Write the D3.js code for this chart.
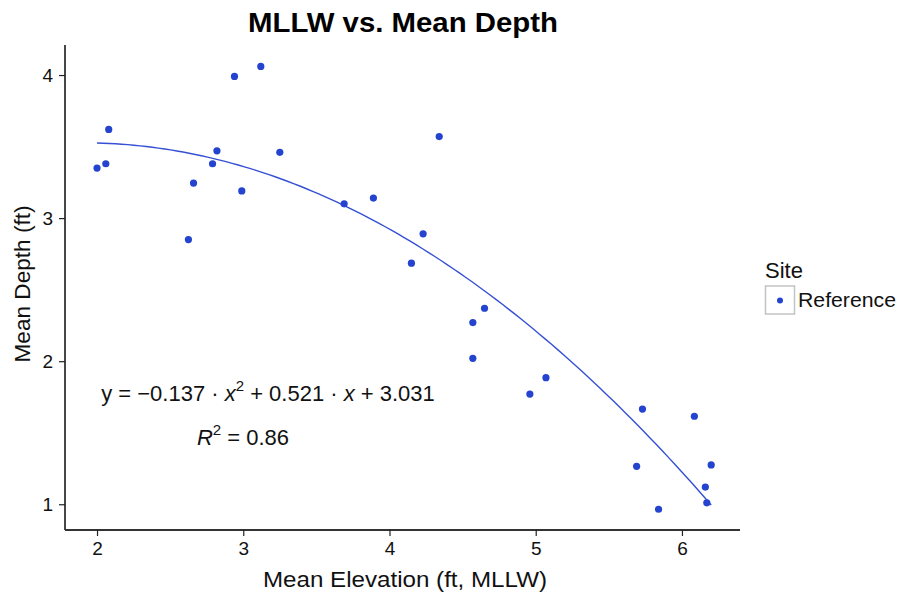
<!DOCTYPE html>
<html>
<head>
<meta charset="utf-8">
<script src="https://cdn.jsdelivr.net/npm/d3@7"></script>
<style>
  body { margin: 0; background: #fff; }
  text { font-family: "Liberation Sans", Arial, Helvetica, sans-serif; }
</style>
</head>
<body>
<svg id="chart" width="898" height="595"></svg>
<script>
// mean elevation (ft, MLLW) and mean depth (ft) per reference site
const elevation = [2.00, 2.06, 2.08, 2.625, 2.66, 2.79, 2.82, 2.94, 2.99, 3.12, 3.25, 3.69, 3.89,
  4.34, 4.23, 4.15, 4.65, 4.57, 4.57, 4.96, 5.07, 5.73, 5.69, 5.84, 6.085, 6.20, 6.16, 6.17];
const depth = [3.35, 3.38, 3.62, 2.85, 3.245, 3.38, 3.47, 3.99, 3.19, 4.06, 3.46, 3.10, 3.14,
  3.57, 2.89, 2.685, 2.37, 2.27, 2.02, 1.77, 1.885, 1.665, 1.265, 0.965, 1.615, 1.275, 1.12, 1.01];
const fitCoef = [3.031, 0.521, -0.137]; // c0 + c1*x + c2*x^2
const xTicks = [2, 3, 4, 5, 6];
const yTicks = [1, 2, 3, 4];
const siteNames = ['Reference'];

const blue = '#2443cf';
const svg = d3.select('#chart');

const margin = { left: 65, right: 158, top: 45, bottom: 65 };
const W = 898, H = 595;

const x = d3.scaleLinear().domain([1.781, 6.397]).range([margin.left, W - margin.right]);
const y = d3.scaleLinear().domain([0.82, 4.21]).range([H - margin.bottom, margin.top]);

// axes
const xAxis = svg.append('g')
  .attr('transform', `translate(0,${H - margin.bottom})`)
  .call(d3.axisBottom(x).tickValues(xTicks).tickSize(6).tickPadding(6).tickFormat(d3.format('d')));
const yAxis = svg.append('g')
  .attr('transform', `translate(${margin.left},0)`)
  .call(d3.axisLeft(y).tickValues(yTicks).tickSize(6).tickPadding(6).tickFormat(d3.format('d')));

[xAxis, yAxis].forEach(a => {
  a.select('.domain').attr('stroke', '#333').attr('stroke-width', 1.8);
  a.selectAll('.tick line').attr('stroke', '#222').attr('stroke-width', 1.2);
  a.selectAll('.tick text')
    .attr('fill', '#111')
    .style('font-size', '19px')
    .style('font-family', '"Liberation Sans", Arial, sans-serif');
});
xAxis.select('.domain').attr('d', `M${margin.left},0H${W - margin.right}`);
yAxis.select('.domain').attr('d', `M0,${margin.top}V${H - margin.bottom}`);

// fit line over data range
const xs = d3.range(0, 101).map(i => d3.min(elevation) + i * (d3.max(elevation) - d3.min(elevation)) / 100);
const line = d3.line()
  .x(d => x(d))
  .y(d => y(fitCoef[0] + fitCoef[1] * d + fitCoef[2] * d * d));
svg.append('path')
  .datum(xs)
  .attr('fill', 'none')
  .attr('stroke', '#3550d4')
  .attr('stroke-width', 1.4)
  .attr('d', line);

// points
svg.append('g')
  .selectAll('circle')
  .data(elevation.map((e, i) => [e, depth[i]]))
  .enter()
  .append('circle')
  .attr('cx', d => x(d[0]))
  .attr('cy', d => y(d[1]))
  .attr('r', 3.6)
  .attr('fill', blue);

// title and axis labels
svg.append('text')
  .attr('x', 403)
  .attr('y', 32)
  .attr('text-anchor', 'middle')
  .attr('textLength', 310)
  .attr('lengthAdjust', 'spacingAndGlyphs')
  .style('font-size', '27px')
  .style('font-weight', 'bold')
  .attr('fill', '#000')
  .text('MLLW vs. Mean Depth');

svg.append('text')
  .attr('x', 405)
  .attr('y', 587)
  .attr('text-anchor', 'middle')
  .attr('textLength', 284)
  .attr('lengthAdjust', 'spacingAndGlyphs')
  .style('font-size', '22px')
  .attr('fill', '#111')
  .text('Mean Elevation (ft, MLLW)');

svg.append('text')
  .attr('transform', `translate(30,284) rotate(-90)`)
  .attr('text-anchor', 'middle')
  .attr('textLength', 157)
  .attr('lengthAdjust', 'spacingAndGlyphs')
  .style('font-size', '22px')
  .attr('fill', '#111')
  .text('Mean Depth (ft)');

// equation annotation
const eq = svg.append('text')
  .attr('x', 268)
  .attr('y', 401)
  .attr('text-anchor', 'middle')
  .style('font-size', '22px')
  .attr('fill', '#111');
eq.append('tspan').text('y = \u2212' + Math.abs(fitCoef[2]).toFixed(3) + ' \u00b7 ');
eq.append('tspan').style('font-style', 'italic').text('x');
eq.append('tspan').attr('dy', -10).style('font-size', '15px').text('2');
eq.append('tspan').attr('dy', 10).text(' + ' + fitCoef[1].toFixed(3) + ' \u00b7 ');
eq.append('tspan').style('font-style', 'italic').text('x');
eq.append('tspan').text(' + ' + fitCoef[0].toFixed(3));

const r2 = svg.append('text')
  .attr('x', 243)
  .attr('y', 445)
  .attr('text-anchor', 'middle')
  .style('font-size', '22px')
  .attr('fill', '#111');
r2.append('tspan').style('font-style', 'italic').text('R');
r2.append('tspan').attr('dy', -10).style('font-size', '15px').text('2');
r2.append('tspan').attr('dy', 10).text(' = 0.86');

// legend
const leg = svg.append('g').attr('transform', 'translate(765,0)');
leg.append('text')
  .attr('x', 0)
  .attr('y', 278)
  .style('font-size', '22px')
  .attr('fill', '#111')
  .text('Site');
siteNames.forEach((s, i) => {
  const g = leg.append('g').attr('transform', `translate(0,${286 + i * 29})`);
  g.append('rect')
    .attr('x', 0.5).attr('y', 0)
    .attr('width', 29).attr('height', 28)
    .attr('fill', '#fff')
    .attr('stroke', '#c4c4c4')
    .attr('stroke-width', 1.5);
  g.append('circle')
    .attr('cx', 15).attr('cy', 14.5)
    .attr('r', 3)
    .attr('fill', blue);
  g.append('text')
    .attr('x', 33).attr('y', 21)
    .attr('textLength', 98)
    .attr('lengthAdjust', 'spacingAndGlyphs')
    .style('font-size', '20px')
    .attr('fill', '#111')
    .text(s);
});
</script>
</body>
</html>
